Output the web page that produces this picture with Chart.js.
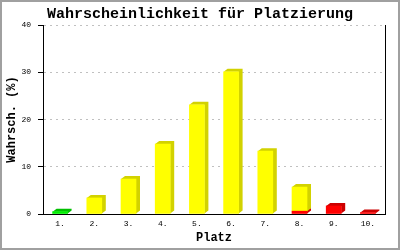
<!DOCTYPE html>
<html>
<head>
<meta charset="utf-8">
<script src="https://cdn.jsdelivr.net/npm/chart.js@4"></script>
<style>
    html, body { margin: 0; padding: 0; background: #fff; }
</style>
</head>
<body>
<canvas id="chart" width="400" height="250"></canvas>
<script>
// Platzierung 1. bis 10.
const categories = ['1.', '2.', '3.', '4.', '5.', '6.', '7.', '8.', '9.', '10.'];
const greenValues = [0.5, null, null, null, null, null, null, null, null, null];
const yellowValues = [null, 3.4, 7.4, 14.8, 23.1, 30.1, 13.3, 5.1, null, null];
const redValues = [null, null, null, null, null, null, null, 0.6, 1.7, 0.3];
const yMax = 40;
const yStep = 10;

const MONO = "'Liberation Mono', 'DejaVu Sans Mono', monospace";

// 3D-Tiefe: Seite und Deckel hinter jedem Balken
const depthPlugin = {
    id: 'depth',
    beforeDatasetsDraw(chart) {
        const ctx = chart.ctx;
        const dx = 4, dy = 3;
        chart.data.datasets.forEach((ds, i) => {
            const meta = chart.getDatasetMeta(i);
            meta.data.forEach((bar, j) => {
                if (ds.data[j] == null) return;
                const {x, y, base, width} = bar.getProps(['x', 'y', 'base', 'width'], true);
                const l = x - width / 2, r = x + width / 2;
                ctx.save();
                ctx.fillStyle = ds.depthColor;
                ctx.beginPath();
                ctx.moveTo(l, y);
                ctx.lineTo(l + dx, y - dy);
                ctx.lineTo(r + dx, y - dy);
                ctx.lineTo(r + dx, base - dy);
                ctx.lineTo(r, base);
                ctx.lineTo(r, y);
                ctx.closePath();
                ctx.fill();
                ctx.restore();
            });
        });
    }
};

const framePlugin = {
    id: 'frame',
    afterDraw(chart) {
        const ctx = chart.ctx;
        ctx.save();
        ctx.strokeStyle = '#a0a0a0';
        ctx.lineWidth = 2;
        ctx.strokeRect(1, 1, 398, 248);
        ctx.restore();
    }
};

new Chart(document.getElementById('chart'), {
    type: 'bar',
    data: {
        labels: categories,
        datasets: [
            { data: redValues, backgroundColor: '#ff0000', depthColor: '#cc0000' },
            { data: greenValues, backgroundColor: '#00f000', depthColor: '#00c000' },
            { data: yellowValues, backgroundColor: '#ffff00', depthColor: '#d2d200' }
        ]
    },
    options: {
        responsive: false,
        animation: false,
        barThickness: 15,
        layout: { padding: 0 },
        plugins: {
            legend: { display: false },
            tooltip: { enabled: false },
            title: {
                display: true,
                text: 'Wahrscheinlichkeit für Platzierung',
                color: '#000',
                font: { family: MONO, size: 15, weight: 'bold' },
                padding: { top: 5, bottom: 2 }
            }
        },
        scales: {
            x: {
                stacked: true,
                grid: { display: false, drawTicks: false },
                border: { color: '#000', width: 1 },
                ticks: { color: '#000', font: { family: MONO, size: 8 }, padding: 5, maxRotation: 0 },
                title: {
                    display: true,
                    text: 'Platz',
                    color: '#000',
                    font: { family: MONO, size: 12, weight: 'bold' },
                    padding: { top: 0, bottom: 5 }
                },
                afterFit(scale) { scale.height = 36; }
            },
            y: {
                stacked: true,
                min: 0,
                max: yMax,
                grid: {
                    color: c => c.tick.value === 0 ? 'rgba(0,0,0,0)' : '#c0c0c0',
                    tickColor: '#000',
                    tickLength: 5,
                    tickBorderDash: []
                },
                border: { color: '#000', width: 1, dash: [2, 4] },
                ticks: { stepSize: yStep, color: '#000', font: { family: MONO, size: 8 }, padding: 7 },
                title: {
                    display: true,
                    text: 'Wahrsch. (%)',
                    color: '#000',
                    font: { family: MONO, size: 12, weight: 'bold' },
                    padding: { top: 5, bottom: 0 }
                },
                afterFit(scale) { scale.width = 43; }
            },
            // rechte Rahmenlinie
            yRight: {
                position: 'right',
                min: 0,
                max: yMax,
                grid: { display: false, drawTicks: false },
                border: { color: '#000', width: 1 },
                ticks: { display: false },
                afterFit(scale) { scale.width = 15; }
            }
        }
    },
    plugins: [depthPlugin, framePlugin]
});
</script>
</body>
</html>
